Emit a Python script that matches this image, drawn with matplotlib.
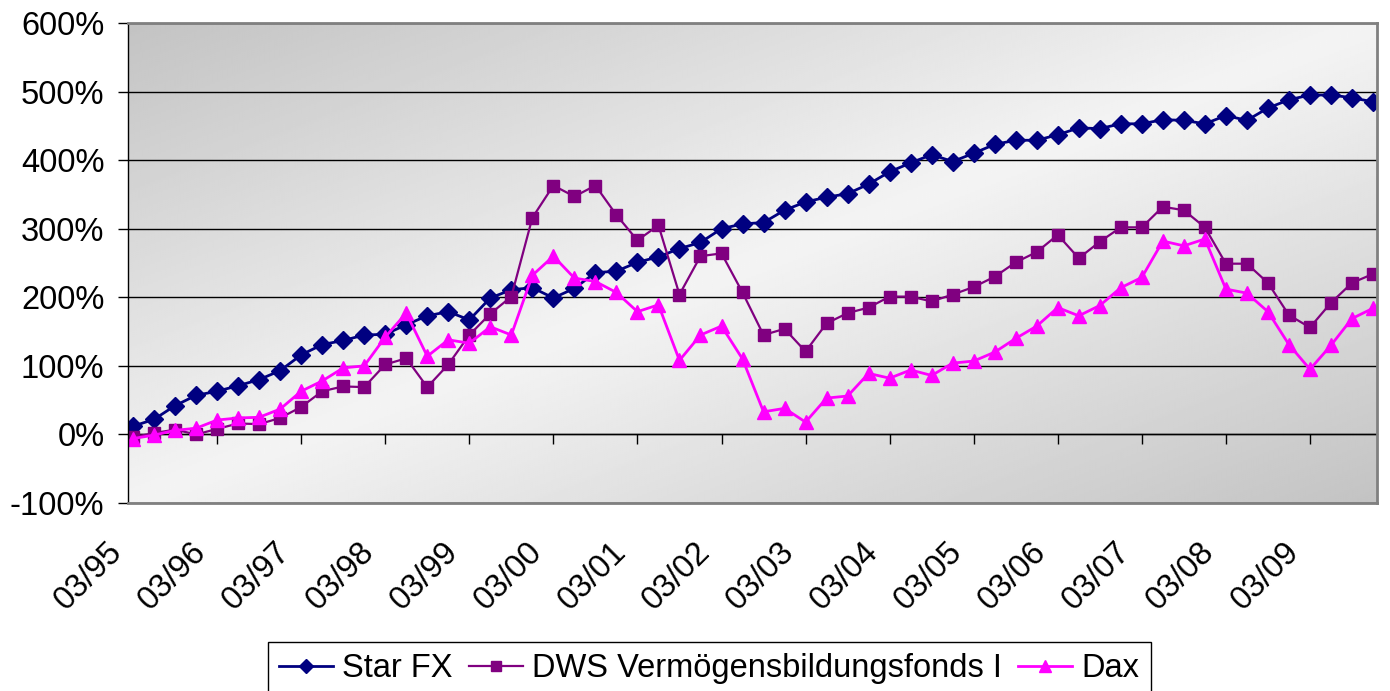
import matplotlib
matplotlib.use('Agg')
import matplotlib.pyplot as plt
import numpy as np
from matplotlib.transforms import ScaledTranslation
from matplotlib.ticker import FuncFormatter

plt.rcParams['font.family'] = ['Liberation Sans', 'DejaVu Sans']

# ---- data (quarterly, 03/95 .. 12/09) ----
tick_labels = ['03/95', '03/96', '03/97', '03/98', '03/99', '03/00', '03/01', '03/02',
               '03/03', '03/04', '03/05', '03/06', '03/07', '03/08', '03/09']

star_fx = [12, 22, 42, 57, 63, 71, 80, 93, 116, 131, 137, 145, 146, 160, 173, 179, 167, 199, 211, 214,
           199, 213, 236, 238, 251, 259, 271, 280, 300, 307, 309, 327, 339, 346, 351, 365, 383, 396,
           408, 398, 410, 423, 429, 429, 437, 447, 446, 453, 453, 459, 458, 453, 465, 458, 476, 488,
           495, 495, 491, 485]

dws = [-4, 2, 7, 0, 8, 16, 15, 24, 40, 63, 70, 69, 102, 111, 69, 102, 145, 176, 201, 316,
       363, 347, 363, 320, 283, 305, 204, 260, 264, 207, 145, 154, 121, 162, 177, 185, 201, 201,
       194, 204, 215, 230, 251, 266, 291, 257, 281, 302, 302, 332, 327, 302, 249, 249, 221, 174,
       156, 192, 221, 234]

dax = [-6, -1, 6, 9, 21, 24, 25, 37, 63, 78, 97, 100, 142, 177, 114, 138, 133, 157, 145, 232,
       260, 228, 223, 207, 179, 189, 108, 145, 158, 110, 33, 38, 18, 53, 56, 89, 82, 94,
       86, 104, 107, 120, 140, 158, 185, 173, 188, 214, 229, 282, 275, 285, 212, 206, 179, 131,
       95, 130, 169, 184]

series_names = ['Star FX', 'DWS Vermögensbildungsfonds I', 'Dax']

x = np.arange(len(star_fx))
FS = 23.5

fig = plt.figure(figsize=(13.9, 6.91), dpi=100)
pos = [128 / 1390, 1 - 503 / 691, 1249 / 1390, 480 / 691]

# background gradient
bg = fig.add_axes(pos, zorder=0)
H, W = 240, 480
yy, xx = np.mgrid[0:H, 0:W]
t = (xx / (W - 1) + yy / (H - 1)) / 2
g = 1 - np.abs(2 * t - 1)
dark, light = 0.765, 0.955
img = dark + (light - dark) * g
bg.imshow(img, cmap='gray', vmin=0, vmax=1, aspect='auto', extent=(0, 1, 0, 1),
          origin='upper', interpolation='bilinear')
bg.set_xlim(0, 1)
bg.set_ylim(0, 1)
bg.axis('off')

ax = fig.add_axes(pos, zorder=1)
ax.patch.set_alpha(0)

ax.plot(x, star_fx, color='#000080', marker='D', ms=9, lw=2, label=series_names[0])
ax.plot(x, dws, color='#800080', marker='s', ms=9, lw=1.6, label=series_names[1])
ax.plot(x, dax, color='#FF00FF', marker='^', ms=10, lw=2, label=series_names[2])

ax.set_xlim(-0.24, 59.19)
ax.set_ylim(-100, 600)
ax.set_yticks(range(-100, 700, 100))
ax.yaxis.set_major_formatter(FuncFormatter(lambda v, p: f'{int(v)}%'))
ax.yaxis.grid(True, color='black', lw=1)
ax.set_axisbelow(True)

ax.tick_params(axis='y', length=7, width=1, direction='out', pad=10, labelsize=FS)
ax.set_xticks(range(0, 4 * len(tick_labels), 4))
ax.set_xticklabels(tick_labels, rotation=45, ha='right', va='top')
ax.tick_params(axis='x', length=0, pad=24, labelsize=FS)
off = ScaledTranslation(-5 / 100, 0, fig.dpi_scale_trans)
for lab in ax.get_xticklabels():
    lab.set_transform(lab.get_transform() + off)

for s in ['top', 'right', 'bottom']:
    ax.spines[s].set_color('#808080')
    ax.spines[s].set_linewidth(2)
ax.spines['left'].set_color('black')
ax.spines['left'].set_linewidth(1)

# x axis crossing at 0%
sec = ax.secondary_xaxis(100 / 700)
sec.set_xticks(range(0, 4 * len(tick_labels), 4))
sec.tick_params(axis='x', length=7, width=1, direction='out', labelbottom=False, labeltop=False,
                color='black')
for s in sec.spines.values():
    s.set_color('black')
    s.set_linewidth(1)

leg = fig.legend(loc='upper left', bbox_to_anchor=(268 / 1390, 1 - 642 / 691), ncol=3,
                 frameon=True, fancybox=False, edgecolor='black', framealpha=1,
                 fontsize=FS, handlelength=1.65, handletextpad=0.28, columnspacing=0.5,
                 borderpad=0.35, borderaxespad=0, markerscale=0.8)
leg.get_frame().set_linewidth(1)

fig.savefig('out.png', dpi=100)
